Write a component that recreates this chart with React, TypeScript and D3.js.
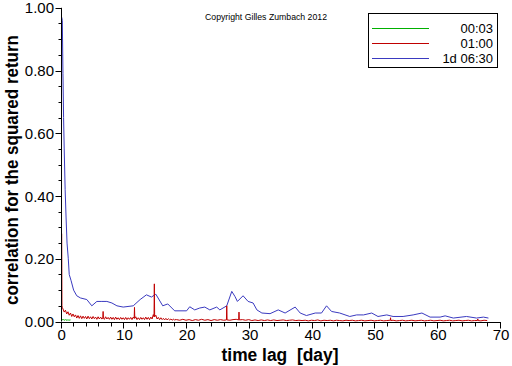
import React from "react";
import * as d3 from "d3";

const W = 512;
const H = 366;

const xTickValues = [0, 10, 20, 30, 40, 50, 60, 70];
const yTickValues = [0, 0.2, 0.4, 0.6, 0.8, 1.0];

const legendLabels = ["00:03", "01:00", "1d 06:30"];
const seriesColors = ["#00b000", "#c00000", "#3a3ac0"];

// Blue series "1d 06:30": [day, value]
const blueDays = [0, 0.1, 0.2, 0.3, 0.4, 0.55, 0.7, 0.85, 1.05, 1.2, 1.5, 1.9, 2.4, 3.0, 4.0, 4.8, 5.6, 6.4, 7.2, 8.0, 8.8, 9.8, 11.4, 12.5, 13.5, 14.3, 15.0, 16.1, 16.9, 18.0, 19.9, 20.4, 21.2, 22.0, 22.8, 23.6, 24.7, 25.2, 26.3, 27.1, 27.6, 28.0, 28.9, 29.7, 30.5, 31.1, 31.9, 33.2, 34.5, 35.6, 37.2, 38.0, 39.0, 40.4, 41.4, 42.2, 43.0, 44.3, 45.9, 47.0, 48.1, 49.4, 50.4, 51.8, 52.8, 54.4, 56.0, 57.4, 58.7, 60.3, 61.1, 62.4, 64.5, 66.1, 67.2, 68.0];
const blueVals = [0.97, 0.96, 0.79, 0.65, 0.55, 0.42, 0.33, 0.25, 0.2, 0.15, 0.13, 0.1, 0.082, 0.075, 0.07, 0.05, 0.064, 0.064, 0.064, 0.059, 0.05, 0.046, 0.05, 0.07, 0.085, 0.078, 0.087, 0.05, 0.056, 0.034, 0.034, 0.047, 0.037, 0.043, 0.046, 0.037, 0.046, 0.037, 0.05, 0.096, 0.08, 0.064, 0.082, 0.064, 0.059, 0.037, 0.027, 0.025, 0.037, 0.027, 0.046, 0.027, 0.019, 0.027, 0.027, 0.05, 0.032, 0.027, 0.016, 0.021, 0.021, 0.027, 0.016, 0.021, 0.016, 0.016, 0.021, 0.027, 0.014, 0.014, 0.018, 0.011, 0.016, 0.011, 0.014, 0.011];

// Red series "01:00"
const redEarlyDays = [0, 0.04, 0.1];
const redEarlyVals = [0.28, 0.05, 0.045];
const redDenseStep = 0.2; // days 0.2 .. 18.2
const redDenseVals = [
  0.040, 0.030, 0.036, 0.024, 0.031, 0.020, 0.027, 0.016, 0.024, 0.015,
  0.021, 0.011, 0.019, 0.010, 0.018, 0.009, 0.017, 0.010, 0.016, 0.008,
  0.017, 0.009, 0.015, 0.008, 0.016, 0.009, 0.014, 0.007, 0.015, 0.008,
  0.014, 0.008, 0.013, 0.007, 0.015, 0.008, 0.013, 0.007, 0.014, 0.007,
  0.013, 0.006, 0.014, 0.007, 0.012, 0.006, 0.013, 0.007, 0.012, 0.006,
  0.013, 0.006, 0.012, 0.007, 0.013, 0.006, 0.014, 0.008, 0.015, 0.006,
  0.012, 0.006, 0.013, 0.007, 0.012, 0.006, 0.014, 0.007, 0.013, 0.006,
  0.014, 0.008, 0.022, 0.012, 0.020, 0.008, 0.013, 0.006, 0.012, 0.006,
  0.010, 0.005, 0.010, 0.005, 0.009, 0.005, 0.008, 0.004, 0.008, 0.004, 0.007,
];
const redLateStart = 18.3;
const redLateStep = 0.5;
const redLateVals = [
  0.006, 0.004, 0.007, 0.004, 0.006, 0.003, 0.006, 0.004, 0.007, 0.004,
  0.006, 0.003, 0.006, 0.004, 0.006, 0.004, 0.008, 0.004, 0.006, 0.007,
  0.009, 0.006, 0.004, 0.006, 0.003, 0.005, 0.003, 0.005, 0.003, 0.005,
  0.003, 0.005, 0.003, 0.004, 0.005, 0.003, 0.004, 0.005, 0.003, 0.004,
  0.003, 0.004, 0.002, 0.004, 0.003, 0.005, 0.002, 0.004, 0.003, 0.004,
  0.002, 0.004, 0.003, 0.002, 0.004, 0.003, 0.004, 0.002, 0.003, 0.004,
  0.002, 0.003, 0.004, 0.002, 0.003, 0.004, 0.002, 0.003, 0.004, 0.004,
  0.002, 0.003, 0.004, 0.002, 0.003, 0.004, 0.002, 0.003, 0.004, 0.002,
  0.003, 0.004, 0.002, 0.003, 0.004, 0.002, 0.003, 0.004, 0.002, 0.003,
  0.004, 0.002, 0.003, 0.004, 0.002, 0.003, 0.004, 0.002, 0.004, 0.003,
];
// sharp one-hour spikes of the red series (peak, with base level on either side)
const redSpikeDays = [6.6, 11.6, 14.76, 26.3, 28.25, 52.4, 66.3];
const redSpikeVals = [0.032, 0.045, 0.12, 0.05, 0.03, 0.012, 0.008];
const redSpikeBase = [0.010, 0.010, 0.015, 0.005, 0.005, 0.003, 0.003];

// Green series "00:03"
const greenStep = 0.1;
const greenVals = [0.008, 0.006, 0.005, 0.006, 0.004, 0.005, 0.006, 0.004, 0.005, 0.004, 0.006, 0.004, 0.005, 0.004, 0.005];

const FONT = "'Liberation Sans', Arial, Helvetica, sans-serif";

export default function App() {
  const x = d3.scaleLinear().domain([0, 70]).range([61.7, 501]);
  const y = d3.scaleLinear().domain([0, 1]).range([321.5, 7.8]);

  const blue: [number, number][] = blueDays.map((d, i) => [d, blueVals[i]]);
  const redBase: [number, number][] = [
    ...redEarlyDays.map((d, i) => [d, redEarlyVals[i]] as [number, number]),
    ...redDenseVals.map((v, i) => [(i + 1) * redDenseStep, v] as [number, number]),
    ...redLateVals.map((v, i) => [redLateStart + i * redLateStep, v] as [number, number]),
  ];
  const spikePts: [number, number][] = [];
  redSpikeDays.forEach((d, i) => {
    spikePts.push([d - 0.05, redSpikeBase[i]]);
    spikePts.push([d, redSpikeVals[i]]);
    spikePts.push([d + 0.05, redSpikeBase[i]]);
  });
  const red: [number, number][] = redBase
    .filter(([d]) => !redSpikeDays.some((s) => Math.abs(s - d) < 0.09))
    .concat(spikePts)
    .sort((a, b) => a[0] - b[0]);
  const green: [number, number][] = greenVals.map((v, i) => [i * greenStep, v]);

  const line = d3
    .line<[number, number]>()
    .x((d) => x(d[0]))
    .y((d) => y(d[1]));

  const yMinor = d3.range(0, 1.0001, 0.05);
  const xMinor = d3.range(0, 70.001, 2);
  const fmt = d3.format(".2f");
  const y0 = y(0);
  const x0 = x(0);

  return (
    <svg
      width={W}
      height={H}
      viewBox={`0 0 ${W} ${H}`}
      style={{ position: "absolute", left: 0, top: 0, background: "#fff" }}
    >
      <rect x={0} y={0} width={W} height={H} fill="#fff" />
      {/* series */}
      <path d={line(blue) || ""} fill="none" stroke={seriesColors[2]} strokeWidth={1} />
      <path d={line(red) || ""} fill="none" stroke={seriesColors[1]} strokeWidth={1} strokeLinejoin="miter" />
      <path d={line(green) || ""} fill="none" stroke={seriesColors[0]} strokeWidth={1} />

      {/* y axis */}
      <line x1={Math.round(x0) - 0.5} x2={Math.round(x0) - 0.5} y1={y(1)} y2={y0} stroke="#000" />
      {yMinor.map((v) => {
        const major = yTickValues.some((t) => Math.abs(t - v) < 1e-6);
        const yy = Math.round(y(v)) + 0.5;
        return (
          <line key={"ym" + v} x1={Math.round(x0) - 0.5} x2={Math.round(x0) - 0.5 - (major ? 6 : 3)} y1={yy} y2={yy} stroke="#000" />
        );
      })}
      {yTickValues.map((v) => (
        <text key={"yl" + v} x={54} y={y(v) + 5.5} textAnchor="end" fontFamily={FONT} fontSize={15} fill="#000">
          {fmt(v)}
        </text>
      ))}

      {/* x axis */}
      <line x1={x0 - 1} x2={x(70)} y1={Math.round(y0) + 0.5} y2={Math.round(y0) + 0.5} stroke="#000" />
      {xMinor.map((v) => {
        const major = xTickValues.includes(v);
        const xx = Math.round(x(v)) - 0.5;
        return (
          <line key={"xm" + v} x1={xx} x2={xx} y1={Math.round(y0) + 0.5} y2={Math.round(y0) + 0.5 + (major ? 6 : 4)} stroke="#000" />
        );
      })}
      {xTickValues.map((v) => (
        <text key={"xl" + v} x={x(v)} y={340} textAnchor="middle" fontFamily={FONT} fontSize={15} fill="#000">
          {v}
        </text>
      ))}

      {/* axis titles */}
      <text x={280} y={361} textAnchor="middle" fontFamily={FONT} fontSize={18} fontWeight="bold" textLength={117} lengthAdjust="spacingAndGlyphs" fill="#000" style={{ whiteSpace: "pre" }}>
        {"time lag  [day]"}
      </text>
      <text
        transform="translate(18,170) rotate(-90)"
        textAnchor="middle"
        fontFamily={FONT}
        fontSize={18}
        fontWeight="bold"
        textLength={270}
        lengthAdjust="spacingAndGlyphs"
        fill="#000"
      >
        correlation for the squared return
      </text>

      {/* copyright */}
      <text x={266} y={19.5} textAnchor="middle" fontFamily={FONT} fontSize={9} textLength={122} lengthAdjust="spacingAndGlyphs" fill="#000">
        Copyright Gilles Zumbach 2012
      </text>

      {/* legend */}
      <rect x={368.5} y={13.5} width={129} height={54} fill="#fff" stroke="#000" />
      {legendLabels.map((lab, i) => {
        const ly = 28 + i * 15;
        return (
          <g key={lab}>
            <line x1={372} x2={429} y1={ly + 0.5} y2={ly + 0.5} stroke={seriesColors[i]} />
            <text x={493} y={ly + 5} textAnchor="end" fontFamily={FONT} fontSize={13} fill="#000">
              {lab}
            </text>
          </g>
        );
      })}
    </svg>
  );
}
